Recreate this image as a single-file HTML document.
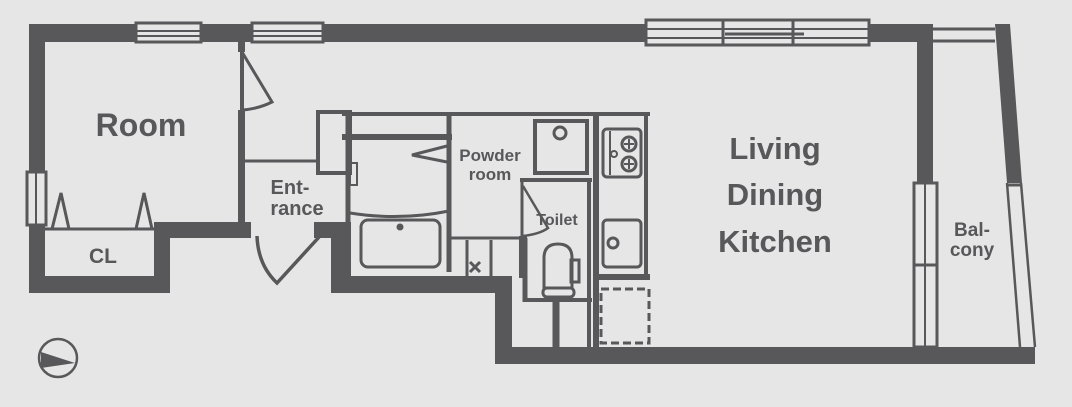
<!DOCTYPE html>
<html><head><meta charset="utf-8"><style>
html,body{margin:0;padding:0;background:#e6e6e6;}
svg{display:block}
text{font-family:"Liberation Sans",sans-serif;font-weight:bold;fill:#58585a;text-anchor:middle}
</style></head><body>
<svg width="1072" height="407" viewBox="0 0 1072 407" xmlns="http://www.w3.org/2000/svg">
<rect width="1072" height="407" fill="#e6e6e6"/>
<g fill="#58585a">
<!-- top wall -->
<rect x="29" y="24" width="904" height="18"/>
<!-- left wall -->
<rect x="29" y="24" width="16" height="269"/>
<!-- bottom left -->
<rect x="29" y="276" width="141" height="17"/>
<rect x="154" y="222" width="16" height="71"/>
<rect x="154" y="222" width="97" height="16"/>
<!-- room right thin wall -->
<rect x="238" y="42" width="7" height="10"/>
<rect x="238" y="110" width="7" height="125"/>
<!-- entrance right -->
<rect x="314" y="222" width="28" height="16"/>
<rect x="331" y="222" width="20" height="71"/>
<rect x="331" y="276" width="181" height="17"/>
<rect x="495" y="276" width="17" height="88"/>
<rect x="495" y="347" width="540" height="17"/>
<!-- LDK right wall -->
<rect x="917" y="24" width="16" height="160"/>
<!-- balcony slanted wall -->
<polygon points="995,24 1010,24 1022,183 1007,183"/>
</g>
<g fill="none" stroke="#58585a">
<!-- windows top -->
<rect x="136" y="23" width="65" height="19" fill="#e6e6e6" stroke-width="3"/>
<line x1="136" y1="31" x2="201" y2="31" stroke-width="2"/><line x1="136" y1="36" x2="201" y2="36" stroke-width="2"/>
<rect x="252" y="23" width="71" height="19" fill="#e6e6e6" stroke-width="3"/>
<line x1="252" y1="31" x2="323" y2="31" stroke-width="2"/><line x1="252" y1="36" x2="323" y2="36" stroke-width="2"/>
<rect x="646" y="20" width="223" height="25" fill="#e6e6e6" stroke-width="3"/>
<line x1="646" y1="29" x2="869" y2="29" stroke-width="2"/><line x1="646" y1="38" x2="869" y2="38" stroke-width="2"/>
<line x1="723" y1="20" x2="723" y2="45" stroke-width="3"/><line x1="793" y1="20" x2="793" y2="45" stroke-width="3"/>
<line x1="725" y1="34" x2="804" y2="34" stroke-width="3"/>
<!-- left window -->
<rect x="27" y="172" width="19" height="53" fill="#e6e6e6" stroke-width="3"/>
<line x1="36" y1="172" x2="36" y2="225" stroke-width="2"/>
<!-- balcony -->
<line x1="933" y1="29" x2="995" y2="29" stroke-width="3"/>
<line x1="933" y1="41" x2="995" y2="41" stroke-width="3"/>
<line x1="1007" y1="183" x2="1020" y2="347" stroke-width="2.5"/>
<line x1="1021" y1="183" x2="1035" y2="347" stroke-width="2.5"/>
<line x1="1007" y1="185" x2="1021" y2="185" stroke-width="3"/>
<rect x="914" y="183" width="23" height="164" stroke-width="3"/>
<line x1="925" y1="183" x2="925" y2="347" stroke-width="2"/>
<line x1="914" y1="265" x2="937" y2="265" stroke-width="3"/>
<!-- room door -->
<line x1="242" y1="52" x2="242" y2="110" stroke-width="4"/>
<path d="M242,52 L272,102 Q258,109 242,110" stroke-width="3"/>
<!-- CL -->
<line x1="45" y1="229" x2="154" y2="229" stroke-width="3"/>
<path d="M52,229 L61,193 L69,229 M136,229 L144,193 L152,229" stroke-width="3"/>
<!-- entrance -->
<line x1="245" y1="161" x2="318" y2="161" stroke-width="3"/>
<path d="M257,236 Q258,265 277,283 L320,236" stroke-width="3.5"/>
<!-- bath block -->
<rect x="318" y="112" width="32" height="61" stroke-width="4"/>
<rect x="350" y="163" width="7" height="22" stroke-width="2"/>
<line x1="342" y1="114" x2="452" y2="114" stroke-width="4"/>
<line x1="342" y1="137" x2="452" y2="137" stroke-width="6"/>
<line x1="348" y1="112" x2="348" y2="276" stroke-width="5"/>
<line x1="449" y1="112" x2="449" y2="272" stroke-width="5"/>
<path d="M350,213 Q400,221 449,211" stroke-width="3"/>
<rect x="361" y="220" width="79" height="47" rx="7" stroke-width="3"/>
<circle cx="400" cy="227" r="3" fill="#58585a"/>
<path d="M447,146 L412,155 L447,162" stroke-width="3"/>
<!-- powder room -->
<line x1="449" y1="114" x2="650" y2="114" stroke-width="4"/>
<line x1="449" y1="238" x2="520" y2="238" stroke-width="3"/>
<line x1="467" y1="240" x2="467" y2="276" stroke-width="3"/>
<line x1="491" y1="240" x2="491" y2="276" stroke-width="3"/>
<path d="M470,262 L480,272 M470,272 L480,262" stroke-width="3"/>
<rect x="535" y="121" width="52" height="52" stroke-width="4"/>
<circle cx="560" cy="133" r="6" stroke-width="3"/>
<line x1="520" y1="180" x2="592" y2="180" stroke-width="4"/>
<!-- toilet -->
<line x1="522" y1="180" x2="522" y2="240" stroke-width="3"/>
<path d="M523,186 L548,228 Q540,234 523,236" stroke-width="2.5"/>
<rect x="519" y="236" width="8" height="42" fill="#58585a" stroke="none"/>
<line x1="525" y1="238" x2="525" y2="302" stroke-width="5"/>
<line x1="525" y1="300" x2="592" y2="300" stroke-width="4"/>
<line x1="589" y1="180" x2="589" y2="347" stroke-width="4"/>
<line x1="556" y1="300" x2="556" y2="347" stroke-width="7"/>
<path d="M544,288 L544,258 Q544,244 558,244 Q572,244 572,258 L572,288 Z" stroke-width="3"/>
<rect x="571" y="260" width="8" height="22" stroke-width="3"/>
<rect x="543" y="288" width="31" height="9" rx="4" stroke-width="3"/>
<!-- kitchen -->
<line x1="596" y1="114" x2="596" y2="347" stroke-width="6"/>
<line x1="646" y1="114" x2="646" y2="277" stroke-width="4"/>
<line x1="596" y1="277" x2="650" y2="277" stroke-width="6"/>
<rect x="603" y="129" width="38" height="48" rx="4" stroke-width="3"/>
<line x1="610" y1="131" x2="610" y2="175" stroke-width="2"/>
<circ cx="0" cy="0"/>
<circle cx="629" cy="144" r="7" stroke-width="3"/>
<circle cx="629" cy="164" r="7" stroke-width="3"/>
<path d="M629,139 V149 M624,144 H634 M629,159 V169 M624,164 H634" stroke-width="2"/>
<circle cx="614" cy="154" r="3" stroke-width="2"/>
<rect x="603" y="220" width="38" height="47" rx="4" stroke-width="3"/>
<circle cx="613" cy="243" r="5" stroke-width="3"/>
<rect x="601" y="289" width="48" height="54" stroke-width="3" stroke-dasharray="8,4"/>
<!-- compass -->
<circle cx="58" cy="358" r="19" stroke-width="2.5"/>
</g>
<polygon points="41,352 75,363 41,368" fill="#58585a"/>
<text x="141" y="136" font-size="32">Room</text>
<text x="103" y="263" font-size="21">CL</text>
<text x="290" y="194" font-size="20">Ent-</text>
<text x="297" y="215" font-size="20">rance</text>
<text x="490" y="161" font-size="17">Powder</text>
<text x="490" y="180" font-size="17">room</text>
<text x="557" y="225" font-size="16">Toilet</text>
<text x="775" y="159" font-size="31">Living</text>
<text x="775" y="205" font-size="31">Dining</text>
<text x="775" y="252" font-size="31">Kitchen</text>
<text x="972" y="236" font-size="19">Bal-</text>
<text x="972" y="256" font-size="19">cony</text>
</svg>
</body></html>
